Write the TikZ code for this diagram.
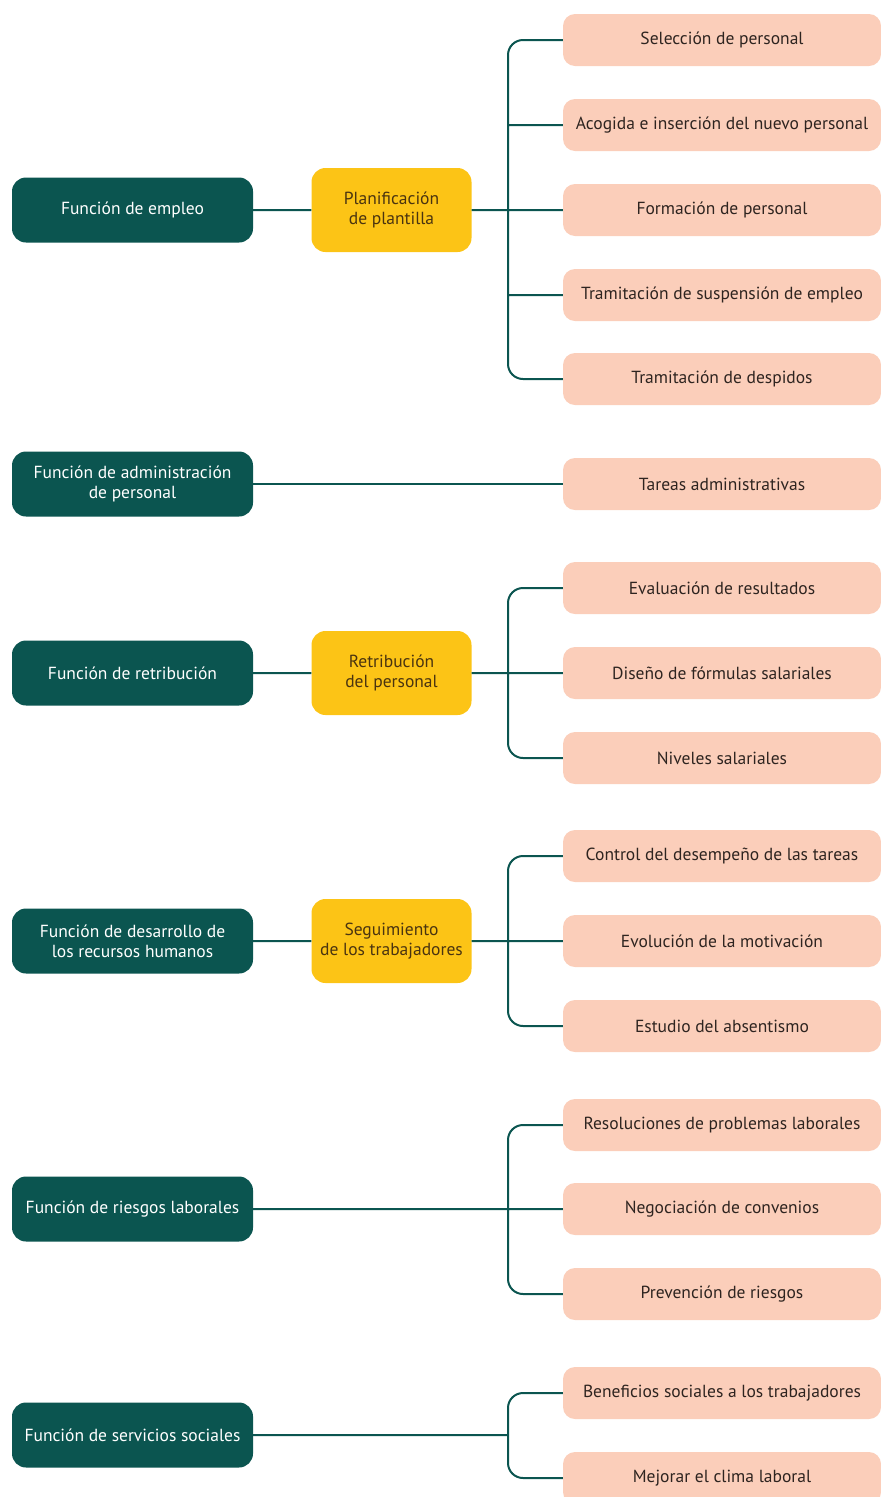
\documentclass[tikz,border=0pt]{standalone}
\usepackage{fontspec}
\setmainfont{PT Sans}
\usepackage{xcolor}

\definecolor{verdeosc}{HTML}{0B5550}
\definecolor{amarillo}{HTML}{FCC416}
\definecolor{salmon}{HTML}{FBCEBA}
\definecolor{marron}{HTML}{4A3410}
\definecolor{tinta}{HTML}{2E2420}

\tikzset{
  funcion/.style={rectangle,rounded corners=14pt,fill=verdeosc,text=white,
    minimum width=241pt,minimum height=65pt,inner sep=0pt,align=center,
    font=\fontsize{17.5}{20}\selectfont},
  proceso/.style={rectangle,rounded corners=14pt,fill=amarillo,text=marron,
    minimum width=160pt,minimum height=84pt,inner sep=0pt,align=center,
    font=\fontsize{17.5}{20}\selectfont},
  tarea/.style={rectangle,rounded corners=12pt,fill=salmon,text=tinta,
    minimum width=318pt,minimum height=52pt,inner sep=0pt,align=center,
    font=\fontsize{17.5}{20}\selectfont},
  enlace/.style={draw=verdeosc,line width=2pt,rounded corners=15pt}
}

\begin{document}
\begin{tikzpicture}[x=1pt,y=-1pt]
                \clip (0,0) rectangle (881,1497);
                \useasboundingbox (0,0) rectangle (881,1497);

                % funciones
                \node (f1) at (132.5,210) [funcion] {Función de empleo};
                \node (f2) at (132.5,484) [funcion] {Función de administración\\de personal};
                \node (f3) at (132.5,673) [funcion] {Función de retribución};
                \node (f4) at (132.5,941) [funcion] {Función de desarrollo de\\los recursos humanos};
                \node (f5) at (132.5,1209) [funcion] {Función de riesgos laborales};
                \node (f6) at (132.5,1435) [funcion] {Función de servicios sociales};

                % procesos
                \node (p1) at (391.5,210) [proceso] {Planificación\\de plantilla};
                \node (p3) at (391.5,673) [proceso] {Retribución\\del personal};
                \node (p4) at (391.5,941) [proceso] {Seguimiento\\de los trabajadores};

                % tareas
                \node (t1) at (722,40) [tarea] {Selección de personal};
                \node (t2) at (722,125) [tarea] {Acogida e inserción del nuevo personal};
                \node (t3) at (722,210) [tarea] {Formación de personal};
                \node (t4) at (722,295) [tarea] {Tramitación de suspensión de empleo};
                \node (t5) at (722,379) [tarea] {Tramitación de despidos};
                \node (t6) at (722,484) [tarea] {Tareas administrativas};
                \node (t7) at (722,588) [tarea] {Evaluación de resultados};
                \node (t8) at (722,673) [tarea] {Diseño de fórmulas salariales};
                \node (t9) at (722,758) [tarea] {Niveles salariales};
                \node (t10) at (722,856) [tarea] {Control del desempeño de las tareas};
                \node (t11) at (722,941) [tarea] {Evolución de la motivación};
                \node (t12) at (722,1026) [tarea] {Estudio del absentismo};
                \node (t13) at (722,1125) [tarea] {Resoluciones de problemas laborales};
                \node (t14) at (722,1209) [tarea] {Negociación de convenios};
                \node (t15) at (722,1294) [tarea] {Prevención de riesgos};
                \node (t16) at (722,1393) [tarea] {Beneficios sociales a los trabajadores};
                \node (t17) at (722,1478) [tarea] {Mejorar el clima laboral};

                % uniones
                \coordinate (j1) at (508,210);
                \coordinate (j3) at (508,673);
                \coordinate (j4) at (508,941);
                \coordinate (j5) at (508,1209);
                \coordinate (j6) at (508,1435);

                \draw[enlace] (f1) -- (p1) (p1) -- (t3) (t1.west) -| (j1) |- (t5.west)
                (j1 |- t2.west) -- (t2.west) (j1 |- t4.west) -- (t4.west);
                \draw[enlace] (f2) -- (t6);
                \draw[enlace] (f3) -- (p3) (p3) -- (t8) (t7.west) -| (j3) |- (t9.west);
                \draw[enlace] (f4) -- (p4) (p4) -- (t11) (t10.west) -| (j4) |- (t12.west);
                \draw[enlace] (f5) -- (t14) (t13.west) -| (j5) |- (t15.west);
                \draw[enlace] (f6) -- (j6) (t16.west) -| (j6) |- (t17.west);

\end{tikzpicture}
\end{document}
